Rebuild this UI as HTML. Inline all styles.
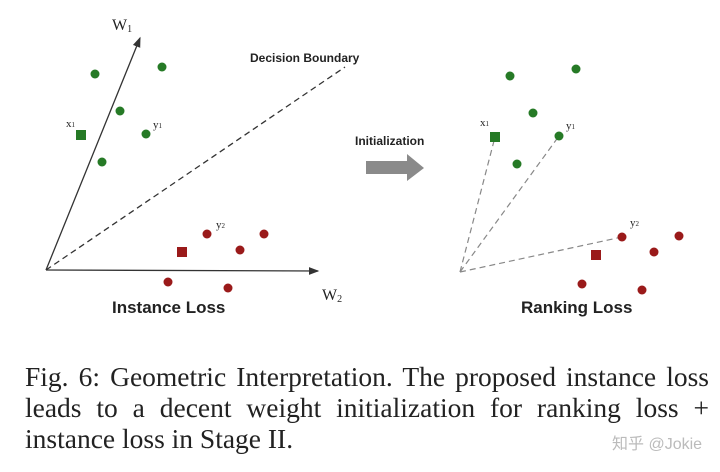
<!DOCTYPE html><html><head><style>
body{margin:0;width:720px;height:472px;background:#fff;overflow:hidden;position:relative}
.cap{position:absolute;left:25px;top:361px;width:684px;font-family:"Liberation Serif",serif;font-size:27.5px;line-height:31px;color:#222}
.cap div{text-align:justify;text-align-last:justify;white-space:nowrap}
.cap div.l{text-align-last:left}
.wm{position:absolute;left:612px;top:430px;font-family:"Liberation Sans","Noto Sans CJK SC",sans-serif;font-size:16px;color:#bbb}
</style></head><body>
<svg width="720" height="350" style="position:absolute;left:0;top:0" font-family="Liberation Sans, sans-serif">
<defs><marker id="a" markerWidth="8" markerHeight="6" refX="7" refY="3" orient="auto"><path d="M0,0L8,3L0,6z" fill="#333"/></marker></defs>
<g stroke="#333" stroke-width="1.3" fill="none">
<line x1="46" y1="270" x2="140" y2="38" marker-end="url(#a)"/>
<line x1="46" y1="270" x2="318" y2="271" marker-end="url(#a)"/>
<line x1="46" y1="270" x2="345" y2="67" stroke-dasharray="6,4"/>
</g>
<g stroke="#888" stroke-width="1.2" stroke-dasharray="6,4">
<line x1="460" y1="272" x2="495" y2="137"/><line x1="460" y1="272" x2="559" y2="136"/><line x1="460" y1="272" x2="622" y2="237"/>
</g>
<g fill="#267a26">
<circle cx="95" cy="74" r="4.5"/><circle cx="162" cy="67" r="4.5"/><circle cx="120" cy="111" r="4.5"/><circle cx="146" cy="134" r="4.5"/><circle cx="102" cy="162" r="4.5"/>
<rect x="76" y="130" width="10" height="10"/>
<circle cx="510" cy="76" r="4.5"/><circle cx="576" cy="69" r="4.5"/><circle cx="533" cy="113" r="4.5"/><circle cx="559" cy="136" r="4.5"/><circle cx="517" cy="164" r="4.5"/>
<rect x="490" y="132" width="10" height="10"/>
</g>
<g fill="#9a1a1a">
<circle cx="207" cy="234" r="4.5"/><circle cx="240" cy="250" r="4.5"/><circle cx="264" cy="234" r="4.5"/><circle cx="168" cy="282" r="4.5"/><circle cx="228" cy="288" r="4.5"/>
<rect x="177" y="247" width="10" height="10"/>
<circle cx="622" cy="237" r="4.5"/><circle cx="654" cy="252" r="4.5"/><circle cx="679" cy="236" r="4.5"/><circle cx="582" cy="284" r="4.5"/><circle cx="642" cy="290" r="4.5"/>
<rect x="591" y="250" width="10" height="10"/>
</g>
<g font-family="Liberation Serif, serif" fill="#222" font-size="11">
<text x="112" y="30" font-size="16">W<tspan font-size="10" dy="2">1</tspan></text>
<text x="322" y="300" font-size="16">W<tspan font-size="10" dy="2">2</tspan></text>
<text x="66" y="127">x<tspan font-size="7">1</tspan></text>
<text x="153" y="128">y<tspan font-size="7">1</tspan></text>
<text x="216" y="228">y<tspan font-size="7">2</tspan></text>
<text x="480" y="126">x<tspan font-size="7">1</tspan></text>
<text x="566" y="129">y<tspan font-size="7">1</tspan></text>
<text x="630" y="226">y<tspan font-size="7">2</tspan></text>
</g>
<g font-weight="bold" fill="#222">
<text x="250" y="62" font-size="12">Decision Boundary</text>
<text x="355" y="145" font-size="12">Initialization</text>
<text x="112" y="313" font-size="17">Instance Loss</text>
<text x="521" y="313" font-size="17">Ranking Loss</text>
</g>
<path d="M366,161H407V154L424,168L407,181V174H366z" fill="#8a8a8a"/>
</svg>
<div class="cap"><div>Fig. 6: Geometric Interpretation. The proposed instance loss</div><div>leads to a decent weight initialization for ranking loss +</div><div class="l">instance loss in Stage II.</div></div>
<div class="wm">知乎 @Jokie</div>
</body></html>
